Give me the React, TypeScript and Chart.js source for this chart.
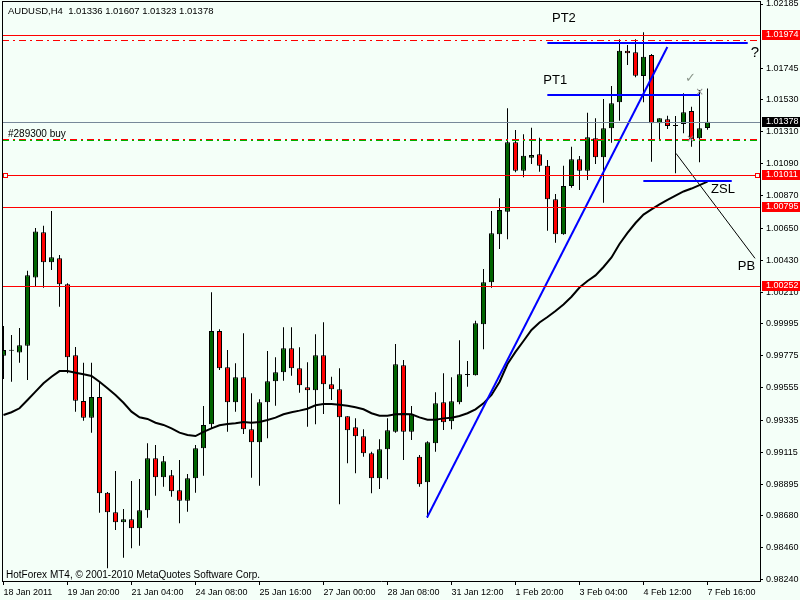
import React, { useEffect, useRef } from "react";
import { Chart, registerables } from "chart.js";

Chart.register(...registerables);

// ---- Data (AUDUSD H4) ----
const OPEN = [
  0.99776, 0.99810, 0.99798, 0.99845, 1.00312, 1.00621, 1.00416, 1.00443, 1.00265, 0.99779,
  0.99466, 0.99352, 0.99493, 0.98838, 0.98704, 0.98635, 0.98656, 0.98594, 0.98717, 0.99074,
  0.98943, 0.98957, 0.98854, 0.98783, 0.98937, 0.99142, 0.99306, 0.99945, 0.99697, 0.99457,
  0.99628, 0.99272, 0.99183, 0.99457, 0.99601, 0.99663, 0.99827, 0.99690, 0.99560, 0.99539,
  0.99779, 0.99580, 0.99546, 0.99361, 0.99286, 0.99224, 0.99108, 0.98937, 0.99135, 0.99256,
  0.99710, 0.99256, 0.99084, 0.98909, 0.99176, 0.99457, 0.99327, 0.99457, 0.99644, 0.99642,
  0.99991, 1.00279, 1.00608, 1.00762, 1.01238, 1.01043, 1.01132, 1.01156, 1.01078, 1.00847,
  1.00608, 1.00939, 1.01121, 1.01043, 1.01265, 1.01135, 1.01334, 1.01512, 1.01865, 1.01854,
  1.01692, 1.01836, 1.01368, 1.01395, 1.01349, 1.01363, 1.01452, 1.01265, 1.01336,
];
const HIGH = [
  0.99980, 0.99918, 0.99966, 1.00358, 1.00651, 1.00667, 1.00767, 1.00466, 1.00272, 0.99836,
  0.99728, 0.99728, 0.99603, 0.98843, 0.98987, 0.98726, 0.98918, 0.98932, 0.99176, 0.99165,
  0.99089, 0.98993, 0.99062, 0.98966, 0.99165, 0.99432, 1.00210, 0.99957, 0.99815, 0.99724,
  0.99930, 0.99519, 0.99478, 0.99808, 0.99765, 0.99971, 0.99971, 0.99834, 0.99731, 0.99923,
  1.00005, 0.99632, 0.99690, 0.99361, 0.99347, 0.99272, 0.99119, 0.99204, 0.99347, 0.99856,
  0.99747, 0.99432, 0.99096, 0.99190, 0.99526, 0.99656, 0.99628, 0.99882, 0.99740, 1.00016,
  1.00370, 1.00767, 1.00854, 1.01471, 1.01322, 1.01293, 1.01338, 1.01269, 1.01117, 1.00884,
  1.01078, 1.01208, 1.01144, 1.01441, 1.01402, 1.01534, 1.01623, 1.01943, 1.01904, 1.01943,
  1.01991, 1.01843, 1.01402, 1.01420, 1.01418, 1.01573, 1.01482, 1.01596, 1.01607,
];
const LOW = [
  0.99617, 0.99598, 0.99728, 0.99610, 1.00254, 1.00242, 1.00363, 1.00112, 0.99656, 0.99393,
  0.99331, 0.99249, 0.98701, 0.98320, 0.98582, 0.98393, 0.98457, 0.98475, 0.98667, 0.98817,
  0.98879, 0.98811, 0.98628, 0.98708, 0.98838, 0.98954, 0.99279, 0.99678, 0.99256, 0.99393,
  0.99240, 0.98941, 0.98886, 0.99211, 0.99434, 0.99605, 0.99639, 0.99523, 0.99290, 0.99306,
  0.99377, 0.99473, 0.98758, 0.99039, 0.98971, 0.99084, 0.98834, 0.98863, 0.98930, 0.99249,
  0.99062, 0.99199, 0.98879, 0.98665, 0.99119, 0.99267, 0.99272, 0.99443, 0.99564, 0.99640,
  0.99820, 1.00242, 1.00507, 1.00573, 1.01032, 1.00998, 1.01089, 1.01036, 1.00632, 1.00550,
  1.00605, 1.00927, 1.00911, 1.00980, 1.01089, 1.00824, 1.01235, 1.01386, 1.01767, 1.01683,
  1.01512, 1.01105, 1.01254, 1.01329, 1.01026, 1.01299, 1.01208, 1.01101, 1.01323,
];
const CLOSE = [
  0.99815, 0.99810, 0.99847, 1.00327, 1.00627, 1.00416, 1.00450, 1.00265, 0.99765, 0.99468,
  0.99352, 0.99493, 0.98834, 0.98704, 0.98635, 0.98656, 0.98594, 0.98717, 0.99074, 0.98943,
  0.99053, 0.98848, 0.98783, 0.98937, 0.99142, 0.99302, 0.99945, 0.99690, 0.99457, 0.99628,
  0.99272, 0.99183, 0.99457, 0.99601, 0.99663, 0.99827, 0.99690, 0.99574, 0.99539, 0.99779,
  0.99580, 0.99546, 0.99354, 0.99265, 0.99224, 0.99108, 0.98937, 0.99135, 0.99265, 0.99717,
  0.99256, 0.99375, 0.98895, 0.99183, 0.99450, 0.99320, 0.99464, 0.99649, 0.99646, 0.99998,
  1.00279, 1.00615, 1.00774, 1.01238, 1.01043, 1.01146, 1.01151, 1.01078, 1.00847, 1.00608,
  1.00939, 1.01121, 1.01043, 1.01272, 1.01135, 1.01334, 1.01505, 1.01865, 1.01847, 1.01694,
  1.01824, 1.01368, 1.01402, 1.01349, 1.01349, 1.01443, 1.01258, 1.01334, 1.01378,
];
const MA = [
  0.99370, 0.99389, 0.99416, 0.99473, 0.99530, 0.99587, 0.99632, 0.99671, 0.99671, 0.99660,
  0.99649, 0.99637, 0.99598, 0.99553, 0.99507, 0.99454, 0.99393, 0.99354, 0.99343, 0.99317,
  0.99302, 0.99279, 0.99249, 0.99233, 0.99226, 0.99254, 0.99279, 0.99300, 0.99308, 0.99313,
  0.99322, 0.99317, 0.99322, 0.99336, 0.99352, 0.99375, 0.99389, 0.99400, 0.99413, 0.99437,
  0.99445, 0.99445, 0.99441, 0.99434, 0.99423, 0.99409, 0.99382, 0.99365, 0.99365, 0.99375,
  0.99377, 0.99375, 0.99354, 0.99338, 0.99338, 0.99347, 0.99352, 0.99363, 0.99382, 0.99409,
  0.99450, 0.99507, 0.99596, 0.99719, 0.99802, 0.99877, 0.99952, 1.00004, 1.00041, 1.00082,
  1.00127, 1.00180, 1.00243, 1.00288, 1.00326, 1.00384, 1.00449, 1.00541, 1.00617, 1.00685,
  1.00743, 1.00778, 1.00812, 1.00843, 1.00873, 1.00901, 1.00921, 1.00945, 1.00968,
];

const DATE_TICKS = [0, 8, 16, 24, 32, 40, 48, 56, 64, 72, 80, 88];
const DATE_LABELS = [
  "18 Jan 2011", "19 Jan 20:00", "21 Jan 04:00", "24 Jan 08:00", "25 Jan 16:00", "27 Jan 00:00",
  "28 Jan 08:00", "31 Jan 12:00", "1 Feb 20:00", "3 Feb 04:00", "4 Feb 12:00", "7 Feb 16:00",
];
const PRICE_TICKS = [
  1.02185, 1.01745, 1.0153, 1.0131, 1.0109, 1.0087, 1.0065, 1.0043, 1.0021, 0.99995,
  0.99775, 0.99555, 0.99335, 0.99115, 0.98895, 0.9868, 0.9846, 0.9824,
];

// horizontal levels
const RED_LEVELS = [1.01974, 1.01011, 1.00795, 1.00252];
const BID_PRICE = 1.01378;
const TP_DASH_LEVEL = 1.01941;
const ORDER_RED_LEVEL = 1.0126;
const ORDER_GREEN_LEVEL = 1.01253;
const ORDER_LABEL = "#289300 buy";

// trend / drawing objects (x = bar index, y = price)
const UP_TREND = [{ x: 52.94, y: 0.98668 }, { x: 82.98, y: 1.0189 }];
const PT2_LINE = [{ x: 67.98, y: 1.01918 }, { x: 93.03, y: 1.01918 }];
const PT1_LINE = [{ x: 67.98, y: 1.01562 }, { x: 87.06, y: 1.01562 }];
const ZSL_LINE = [{ x: 79.98, y: 1.00973 }, { x: 91.03, y: 1.00973 }];
const PB_LINE = [{ x: 84.06, y: 1.01162 }, { x: 93.94, y: 1.00443 }];

const NOTE_TEXT = ["PT2", "PT1", "?", "ZSL", "PB"];
const NOTE_X = [68.56, 67.48, 93.4, 88.44, 91.78];
const NOTE_Y = [1.02089, 1.01665, 1.01849, 1.00918, 1.00391];
const CHECK_POS = { x: 85.19, y: 1.01673 };
const ORDER_MARKS = [{ x: 87.03, y: 1.01582 }, { x: 85.88, y: 1.01258 }];

const TITLE = "AUDUSD,H4";
const FOOTER = "HotForex MT4, \u00A9 2001-2010 MetaQuotes Software Corp.";

const BG = "#F4FFF8";
const BULL = "#006400";
const BEAR = "#FF0000";
const FONT = '"Liberation Sans", Arial, sans-serif';

export default function App() {
  const ref = useRef<HTMLCanvasElement>(null);

  useEffect(() => {
    const canvas = ref.current;
    if (!canvas) return;
    const idx = OPEN.map((_, i) => i);
    const bodies = idx.map((i) => ({ x: i, y: [OPEN[i], CLOSE[i]] }));
    const wicks = idx.map((i) => ({ x: i, y: [LOW[i], HIGH[i]] }));
    const bodyColors = idx.map((i) =>
      CLOSE[i] > OPEN[i] ? BULL : CLOSE[i] < OPEN[i] ? BEAR : "#000000"
    );
    const maData = idx.map((i) => ({ x: i, y: MA[i] }));

    const last = OPEN.length - 1;
    const titleText = `${TITLE}  ${OPEN[last].toFixed(5)} ${HIGH[last].toFixed(5)} ${LOW[last].toFixed(5)} ${CLOSE[last].toFixed(5)}`;

    const mtPlugin = {
      id: "mt4",
      beforeDraw(chart: any) {
        const ctx = chart.ctx;
        ctx.save();
        ctx.fillStyle = BG;
        ctx.fillRect(0, 0, chart.width, chart.height);
        ctx.restore();
      },
      afterDatasetsDraw(chart: any) {
        const ctx = chart.ctx;
        const a = chart.chartArea;
        const xs = chart.scales.x;
        const ys = chart.scales.y;
        const Y = (v: number) => Math.round(ys.getPixelForValue(v)) + 0.5;
        ctx.save();
        ctx.beginPath();
        ctx.rect(a.left, a.top, a.right - a.left, a.bottom - a.top);
        ctx.clip();
        const hline = (y: number, color: string, dash: number[]) => {
          ctx.beginPath();
          ctx.setLineDash(dash);
          ctx.strokeStyle = color;
          ctx.lineWidth = 1;
          ctx.moveTo(a.left, y);
          ctx.lineTo(a.right, y);
          ctx.stroke();
        };
        const dd = [7, 4, 2, 4];
        RED_LEVELS.forEach((p) => hline(Y(p), "#FF0000", []));
        hline(Y(TP_DASH_LEVEL), "#FF0000", dd);
        hline(Y(BID_PRICE), "#778899", []);
        hline(Y(ORDER_GREEN_LEVEL), "#00B000", dd);
        hline(Y(ORDER_RED_LEVEL), "#FF0000", dd);
        ctx.setLineDash([]);

        // small squares on the 1.01011 level
        const sy = Y(RED_LEVELS[1]);
        ctx.strokeStyle = "#FF0000";
        ctx.fillStyle = BG;
        [a.left + 1, a.right - 5].forEach((sx) => {
          ctx.fillRect(sx + 0.5, sy - 2, 4, 4);
          ctx.strokeRect(sx + 0.5, sy - 2, 4, 4);
        });

        // text notes
        ctx.fillStyle = "#000000";
        ctx.textBaseline = "middle";
        ctx.textAlign = "left";
        NOTE_TEXT.forEach((t, i) => {
          ctx.font = (t === "?" ? "15px " : "13px ") + FONT;
          ctx.fillText(t, xs.getPixelForValue(NOTE_X[i]), ys.getPixelForValue(NOTE_Y[i]));
        });
        ctx.font = 'bold 13px "DejaVu Sans", sans-serif';
        ctx.fillStyle = "#8A968A";
        ctx.fillText("\u2713", xs.getPixelForValue(CHECK_POS.x), ys.getPixelForValue(CHECK_POS.y));
        ctx.font = '10px "DejaVu Sans", sans-serif';
        ctx.fillStyle = "#8A8A8A";
        ctx.textAlign = "center";
        ORDER_MARKS.forEach((m) =>
          ctx.fillText("\u00D7", xs.getPixelForValue(m.x), ys.getPixelForValue(m.y))
        );

        // order label, title, footer
        ctx.textAlign = "left";
        ctx.fillStyle = "#000000";
        ctx.font = "10px " + FONT;
        ctx.fillText(ORDER_LABEL, a.left + 6, Y(ORDER_GREEN_LEVEL) - 6);
        ctx.font = "9.5px " + FONT;
        ctx.fillText(titleText, a.left + 6, 11);
        ctx.font = "10px " + FONT;
        ctx.fillText(FOOTER, a.left + 4, 575);
        ctx.restore();

        // frame left/top
        ctx.save();
        ctx.strokeStyle = "#000";
        ctx.lineWidth = 1;
        ctx.beginPath();
        ctx.moveTo(a.left + 0.5, a.top);
        ctx.lineTo(a.left + 0.5, a.bottom);
        ctx.moveTo(a.left, a.top + 0.5);
        ctx.lineTo(a.right, a.top + 0.5);
        ctx.stroke();
        ctx.restore();
      },
      afterDraw(chart: any) {
        const ctx = chart.ctx;
        const ys = chart.scales.y;
        const boxes = [
          ...RED_LEVELS.map((p) => ({ p, c: "#FF0000" })),
          { p: BID_PRICE, c: "#000000" },
        ];
        ctx.save();
        ctx.font = "9px " + FONT;
        ctx.textBaseline = "middle";
        ctx.textAlign = "left";
        boxes.forEach(({ p, c }) => {
          const y = Math.round(ys.getPixelForValue(p));
          ctx.fillStyle = c;
          ctx.fillRect(ys.left + 2, y - 5, chart.width - ys.left - 2, 10);
          ctx.fillStyle = "#FFFFFF";
          ctx.fillText(p.toFixed(5), ys.left + 6, y);
        });
        ctx.restore();
      },
    };

    const lineDs = (data: any[], color: string, width: number) => ({
      type: "line" as const,
      data,
      borderColor: color,
      borderWidth: width,
      pointRadius: 0,
      tension: 0,
      fill: false,
      order: -2,
    });

    const chart = new Chart(canvas, {
      type: "bar",
      data: {
        datasets: [
          lineDs(UP_TREND, "#0000FF", 2),
          lineDs(PT2_LINE, "#0000FF", 2),
          lineDs(PT1_LINE, "#0000FF", 2),
          lineDs(ZSL_LINE, "#0000FF", 2),
          lineDs(PB_LINE, "#000000", 1),
          {
            type: "line",
            data: maData,
            borderColor: "#000000",
            borderWidth: 2,
            pointRadius: 0,
            tension: 0,
            fill: false,
            order: -1,
          },
          {
            type: "bar",
            data: bodies,
            backgroundColor: bodyColors,
            borderColor: "#000000",
            borderWidth: 1,
            borderSkipped: false,
            barThickness: 5,
            grouped: false,
            minBarLength: 1,
            inflateAmount: 0,
            order: 1,
          },
          {
            type: "bar",
            data: wicks,
            backgroundColor: "#000000",
            borderWidth: 0,
            barThickness: 1,
            grouped: false,
            inflateAmount: 0,
            order: 2,
          },
        ] as any,
      },
      options: {
        animation: false,
        responsive: false,
        devicePixelRatio: 1,
        events: [],
        layout: { padding: { left: 2, top: 1, right: 0, bottom: 0 } },
        plugins: { legend: { display: false }, tooltip: { enabled: false } },
        scales: {
          x: {
            type: "linear",
            min: -0.1875,
            max: 94.5625,
            offset: false,
            bounds: "data",
            grid: {
              offset: false,
              drawOnChartArea: false,
              drawTicks: true,
              tickLength: 4,
              color: "#000000",
            },
            border: { display: true, color: "#000000" },
            ticks: {
              autoSkip: false,
              maxRotation: 0,
              minRotation: 0,
              align: "start",
              padding: 2,
              color: "#000000",
              font: { family: FONT, size: 9 },
              callback: (_v: any, i: number) => DATE_LABELS[i],
            },
            afterBuildTicks: (s: any) => {
              s.ticks = DATE_TICKS.map((v) => ({ value: v }));
            },
            afterFit: (s: any) => {
              s.height = 19;
              s.paddingLeft = 0;
              s.paddingRight = 0;
            },
          },
          y: {
            type: "linear",
            position: "right",
            min: 0.98233147,
            max: 1.02205547,
            beginAtZero: false,
            bounds: "data",
            grid: {
              drawOnChartArea: false,
              drawTicks: true,
              tickLength: 3,
              color: "#000000",
            },
            border: { display: true, color: "#000000" },
            ticks: {
              padding: 3,
              color: "#000000",
              font: { family: FONT, size: 9 },
              callback: (v: any) => Number(v).toFixed(5),
            },
            afterBuildTicks: (s: any) => {
              s.ticks = PRICE_TICKS.map((v) => ({ value: v }));
            },
            afterFit: (s: any) => {
              s.width = 40;
              s.paddingTop = 0;
              s.paddingBottom = 0;
            },
          },
        },
      } as any,
      plugins: [mtPlugin],
    });

    return () => chart.destroy();
  }, []);

  return (
    <div style={{ position: "fixed", left: 0, top: 0, width: 800, height: 600, background: BG }}>
      <canvas ref={ref} width={800} height={600} style={{ display: "block" }} />
    </div>
  );
}
